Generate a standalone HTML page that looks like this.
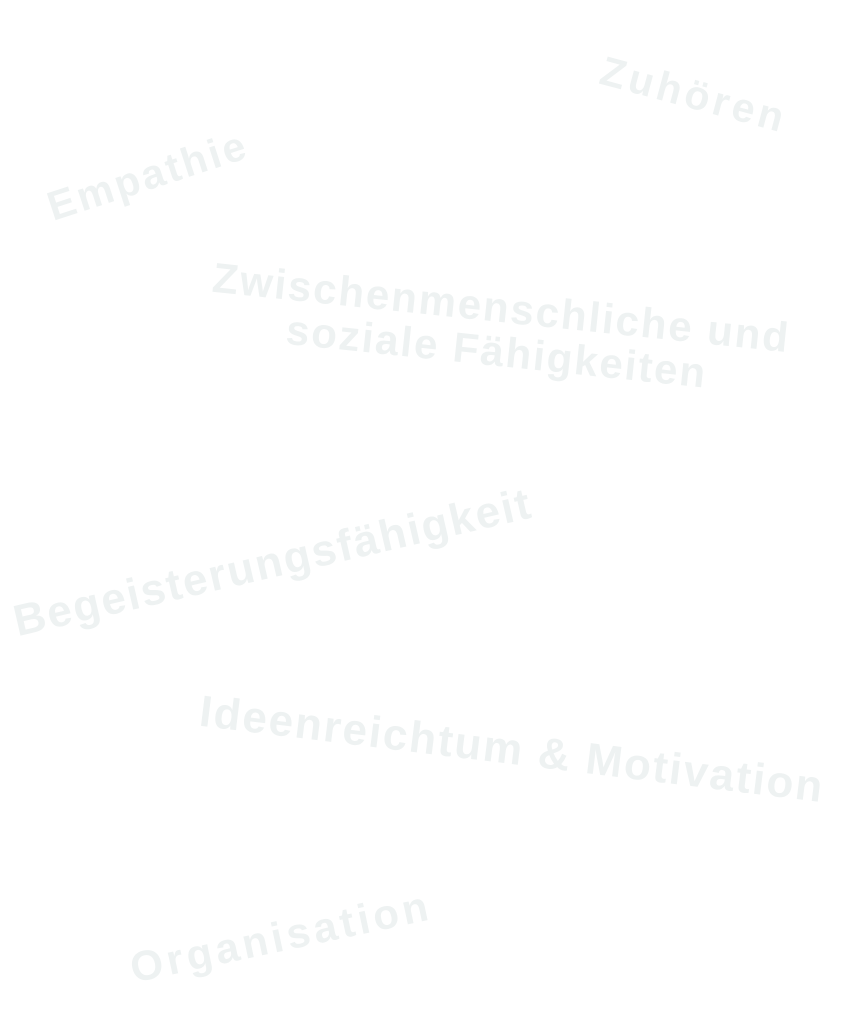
<!DOCTYPE html>
<html><head><meta charset="utf-8"><style>
html,body{margin:0;padding:0;background:#fff;width:864px;height:1024px;overflow:hidden;position:relative}
.t{position:absolute;transform:translate(-50%,-50%) rotate(var(--r));font-family:"Liberation Sans",sans-serif;font-weight:bold;color:#eef2f2;white-space:nowrap;text-align:center;letter-spacing:2px;line-height:1.05}
</style></head><body>
<div class="t" style="left:694px;top:95px;font-size:41px;--r:15deg;letter-spacing:4px">Zuhören</div>
<div class="t" style="left:148px;top:176px;font-size:41px;--r:-18deg;letter-spacing:3px">Empathie</div>
<div class="t" style="left:499px;top:330px;font-size:42px;--r:6deg;letter-spacing:2px">Zwischenmenschliche und<br>soziale Fähigkeiten</div>
<div class="t" style="left:273px;top:563px;font-size:44px;--r:-13deg;letter-spacing:2px">Begeisterungsfähigkeit</div>
<div class="t" style="left:512px;top:750px;font-size:44px;--r:7deg;letter-spacing:2px">Ideenreichtum &amp; Motivation</div>
<div class="t" style="left:281px;top:937px;font-size:42px;--r:-12deg;letter-spacing:4px">Organisation</div>
</body></html>
